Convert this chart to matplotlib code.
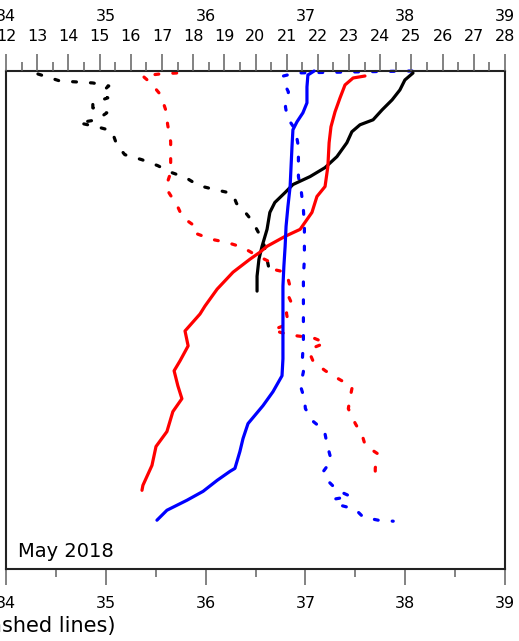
import numpy as np
import matplotlib.pyplot as plt

# depth (m) and salinity profiles -- dashed lines, bottom axis
blk_sal_z = [3, 10, 11, 12, 15, 21, 27, 32, 37, 42, 49, 52, 56, 60, 74, 84, 89, 95,
             102, 107, 115, 119, 123, 133, 141, 151, 166, 172, 182, 196, 199]
blk_sal = [34.32, 34.54, 34.71, 34.87, 35.03, 34.96, 35.02, 34.87, 34.87, 35.01, 34.91,
           34.73, 34.91, 35.06, 35.11, 35.19, 35.36, 35.52, 35.66, 35.80, 35.93, 36.09,
           36.27, 36.31, 36.39, 36.47, 36.55, 36.58, 36.60, 36.63, 36.65]

red_sal_z = [2, 3, 5, 12, 24, 39, 54, 71, 86, 102, 117, 125, 134, 147, 157, 163, 169,
             172, 177, 184, 191, 199, 202, 210, 218, 226, 235, 243, 254, 260, 263, 266,
             268, 273, 279, 285, 292, 301, 309, 317, 327, 339, 354, 366, 376, 384, 399, 414]
red_sal = [35.71, 35.54, 35.37, 35.45, 35.55, 35.60, 35.62, 35.65, 35.65, 35.65, 35.60,
           35.65, 35.71, 35.77, 35.91, 35.90, 36.06, 36.21, 36.37, 36.49, 36.63, 36.67,
           36.80, 36.83, 36.85, 36.83, 36.87, 36.81, 36.83, 36.67, 36.77, 36.92, 37.08,
           37.20, 37.05, 37.05, 37.08, 37.20, 37.33, 37.47, 37.45, 37.43, 37.50, 37.57,
           37.60, 37.72, 37.70, 37.70]

blu_sal_z = [0, 0.5, 1, 1.5, 2, 5, 11, 21, 36, 47, 59, 76, 89, 106, 122, 139, 156, 172,
             189, 206, 222, 236, 256, 272, 289, 302, 316, 329, 339, 352, 361, 376, 391,
             402, 411, 421, 427, 430, 436, 440, 448, 451, 452]
blu_sal = [38.07, 37.75, 37.45, 37.15, 36.90, 36.78, 36.78, 36.83, 36.80, 36.82, 36.90,
           36.93, 36.93, 36.93, 36.96, 36.98, 36.99, 36.99, 36.99, 36.98, 36.98, 36.98,
           36.98, 36.98, 36.97, 36.98, 36.95, 36.99, 37.00, 37.08, 37.19, 37.22, 37.26,
           37.18, 37.22, 37.32, 37.45, 37.28, 37.35, 37.50, 37.58, 37.73, 37.88]

# depth (m) and temperature profiles -- solid lines, top axis
blk_tem_z = [2, 9, 19, 29, 39, 49, 54, 61, 72, 86, 97, 106, 114, 122, 132, 142, 159,
             176, 189, 206, 221]
blk_tem = [25.05, 24.79, 24.63, 24.38, 24.06, 23.77, 23.35, 23.09, 22.93, 22.61, 22.23,
           21.75, 21.20, 20.95, 20.62, 20.46, 20.37, 20.21, 20.11, 20.05, 20.05]

red_tem_z = [5, 7, 14, 27, 41, 56, 72, 96, 116, 126, 142, 159, 166, 176, 182, 189, 202,
             219, 236, 244, 261, 276, 291, 301, 316, 329, 342, 362, 377, 396, 416, 421]
red_tem = [23.51, 23.13, 22.87, 22.71, 22.55, 22.42, 22.36, 22.32, 22.23, 21.97, 21.81,
           21.43, 20.95, 20.37, 20.14, 19.82, 19.28, 18.77, 18.38, 18.22, 17.74, 17.84,
           17.58, 17.39, 17.51, 17.64, 17.35, 17.16, 16.81, 16.68, 16.39, 16.36]

blu_tem_z = [0, 4, 16, 32, 42, 51, 59, 76, 96, 116, 136, 156, 176, 196, 216, 237, 256,
             289, 306, 322, 336, 354, 369, 382, 399, 402, 411, 422, 431, 441, 451]
blu_tem = [21.88, 21.68, 21.65, 21.65, 21.52, 21.33, 21.20, 21.17, 21.14, 21.11, 21.04,
           20.98, 20.95, 20.91, 20.88, 20.88, 20.88, 20.88, 20.85, 20.56, 20.24, 19.76,
           19.60, 19.50, 19.34, 19.18, 18.77, 18.32, 17.80, 17.16, 16.84]

sal_ticks = [34, 35, 36, 37, 38, 39]
tem_ticks = list(range(12, 29))

TICKC = "#606060"
LW = 2.3

fig = plt.figure(figsize=(5.19, 6.41), dpi=100)
ax = fig.add_axes([6 / 519, 1 - 569 / 641, 499 / 519, 498 / 641])

for z, s, c in [(blk_sal_z, blk_sal, "black"), (red_sal_z, red_sal, "red"),
                (blu_sal_z, blu_sal, "blue")]:
    ln, = ax.plot(s, z, color=c, lw=LW, clip_on=False,
                  dash_capstyle="round", solid_capstyle="round")
    ln.set_dashes([1.2, 4.4])

ax.set_xlim(34, 39)
ax.set_ylim(500, 0)
ax.set_xticks(sal_ticks)
ax.set_xticks(np.arange(34.5, 39, 1.0), minor=True)
ax.set_yticks([])
ax.tick_params(axis="x", which="major", length=11.5, width=1.1, color=TICKC,
               pad=8, labelsize=11.5)
ax.tick_params(axis="x", which="minor", length=5.8, width=1.1, color=TICKC)
for sp in ax.spines.values():
    sp.set_linewidth(1.5)
    sp.set_color("#222222")

# temperature scale on top
ax2 = ax.twiny()
for z, t, c in [(blk_tem_z, blk_tem, "black"), (red_tem_z, red_tem, "red"),
                (blu_tem_z, blu_tem, "blue")]:
    ax2.plot(t, z, color=c, lw=LW, clip_on=False, solid_capstyle="round")
ax2.set_xlim(12, 28)
ax2.set_xticks(tem_ticks)
ax2.set_xticks(np.arange(12.5, 28, 1.0), minor=True)
ax2.tick_params(axis="x", which="major", length=12.2, width=1.1, color=TICKC,
                pad=7, labelsize=11.5)
ax2.tick_params(axis="x", which="minor", length=6.5, width=1.1, color=TICKC)
for sp in ax2.spines.values():
    sp.set_visible(False)

# salinity labels repeated above the temperature row
sec = ax.secondary_xaxis("top")
sec.set_xticks(sal_ticks)
sec.tick_params(length=0, pad=34, labelsize=11.5)
sec.spines["top"].set_visible(False)

ax.text(0.024, 0.024, "May 2018", transform=ax.transAxes, fontsize=14,
        ha="left", va="baseline")
fig.text(116 / 519, 1 - 632 / 641, "Salinity (dashed lines)", fontsize=15,
         ha="right", va="baseline")

fig.savefig("out.png", dpi=100)
